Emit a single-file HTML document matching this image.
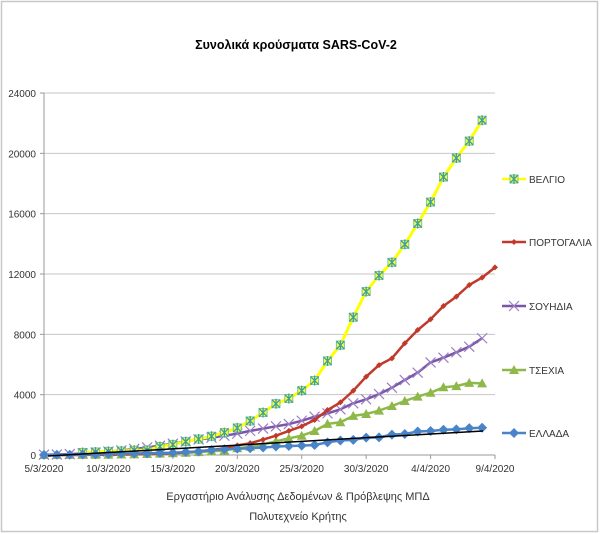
<!DOCTYPE html>
<html><head><meta charset="utf-8"><style>
html,body{margin:0;padding:0;background:#fff;}
svg{display:block;font-family:"Liberation Sans",sans-serif;}
</style></head><body>
<svg id="c" width="600" height="534" viewBox="0 0 600 534" xmlns="http://www.w3.org/2000/svg">
<rect x="1.5" y="1.5" width="596" height="530" fill="#fff" stroke="#c8c8c8" stroke-width="1.5"/>
<text x="296" y="49" text-anchor="middle" font-size="12.5" font-weight="bold" fill="#000">Συνολικά κρούσματα SARS-CoV-2</text>
<g id="grid" stroke="#c6c6c6" stroke-width="1"></g>
<line x1="44" y1="93" x2="44" y2="455" stroke="#999"/>
<line x1="44" y1="455" x2="495" y2="455" stroke="#999"/>
<g id="ylab" font-size="10" fill="#333" text-anchor="end"></g>
<g id="xlab" font-size="10" fill="#333" text-anchor="middle"></g>
<g id="series"></g>
<g id="legend" font-size="10" fill="#333"></g>
<text x="298" y="500" text-anchor="middle" font-size="11" fill="#333">Εργαστήριο Ανάλυσης Δεδομένων &amp; Πρόβλεψης ΜΠΔ</text>
<text x="298" y="520" text-anchor="middle" font-size="11" fill="#333">Πολυτεχνείο Κρήτης</text>
</svg>
<script>
var NS="http://www.w3.org/2000/svg";
function el(t,a,p){var e=document.createElementNS(NS,t);for(var k in a)e.setAttribute(k,a[k]);p.appendChild(e);return e;}
var svg=document.getElementById('c');
var g=document.getElementById('grid'),yl=document.getElementById('ylab'),xl=document.getElementById('xlab');
function Y(v){return 455-v/4000*60.33;}
function X(d){return 44+12.886*d;}
for(var i=0;i<=6;i++){var y=Y(i*4000);if(i>0)el('line',{x1:44,y1:y,x2:495,y2:y},g);el('line',{x1:40,y1:y,x2:44,y2:y,stroke:'#999'},g);
 var t=el('text',{x:36,y:y+4},yl);t.textContent=i*4000;}
var xs=['5/3/2020','10/3/2020','15/3/2020','20/3/2020','25/3/2020','30/3/2020','4/4/2020','9/4/2020'];
for(var i=0;i<8;i++){var x=X(i*5);el('line',{x1:x,y1:455,x2:x,y2:459,stroke:'#999'},g);var t=el('text',{x:x,y:472},xl);t.textContent=xs[i];}
var data={
BE:[169,200,239,267,314,314,559,689,886,1058,1243,1486,1795,2257,2815,3401,3743,4269,4937,6235,7284,9134,10836,11899,12775,13964,15348,16770,18431,19691,20814,22194],
PT:[0,0,2,5,13,21,30,41,59,78,112,169,245,331,448,642,785,1020,1280,1600,1900,2320,2980,3490,4260,5190,5960,6410,7410,8290,9000,9880,10500,11270,11760,12440],
SE:[20,30,60,100,160,230,300,400,500,620,750,900,1030,1150,1280,1420,1600,1750,1900,2050,2270,2540,2760,3030,3430,3690,4040,4460,4970,5460,6140,6450,6810,7180,7740],
CZ:[0,3,5,8,12,19,30,45,65,90,120,150,190,250,300,450,550,700,900,1100,1280,1590,2060,2170,2590,2720,2940,3250,3580,3870,4130,4490,4570,4780,4750],
GR:[9,15,20,30,45,70,90,100,110,130,150,200,230,330,380,420,450,500,560,600,620,660,840,960,1000,1150,1170,1350,1390,1560,1590,1670,1700,1780,1810]};
// Belgium data starts at day 3
var s=document.getElementById('series');
function pts(arr,off){return arr.map(function(v,i){return [X(i+off),Y(v)];});}
function line(p,c,w){el('polyline',{points:p.map(function(q){return q[0].toFixed(1)+','+q[1].toFixed(1)}).join(' '),fill:'none',stroke:c,'stroke-width':w,'stroke-linejoin':'round'},s);}
function mk(type,x,y,par){
 par=par||s;
 if(type=='BE'){el('rect',{x:x-4,y:y-4,width:8,height:8,fill:'#ffff33',stroke:'#7fbf9f','stroke-width':1},par);
  el('path',{d:'M'+(x-4)+' '+(y-4)+'L'+(x+4)+' '+(y+4)+'M'+(x+4)+' '+(y-4)+'L'+(x-4)+' '+(y+4)+'M'+x+' '+(y-5)+'V'+(y+5),stroke:'#3aa0a0','stroke-width':1.3},par);}
 else if(type=='PT'){el('path',{d:'M'+x+' '+(y-3)+'L'+(x+3)+' '+y+'L'+x+' '+(y+3)+'L'+(x-3)+' '+y+'Z',fill:'#c0392b'},par);}
 else if(type=='SE'){el('path',{d:'M'+(x-5)+' '+(y-5)+'L'+(x+5)+' '+(y+5)+'M'+(x+5)+' '+(y-5)+'L'+(x-5)+' '+(y+5),stroke:'#9b7fc4','stroke-width':1.2},par);}
 else if(type=='CZ'){el('path',{d:'M'+x+' '+(y-5)+'L'+(x+5)+' '+(y+4)+'L'+(x-5)+' '+(y+4)+'Z',fill:'#8fb84a'},par);}
 else if(type=='GR'){el('path',{d:'M'+x+' '+(y-5)+'L'+(x+5)+' '+y+'L'+x+' '+(y+5)+'L'+(x-5)+' '+y+'Z',fill:'#4a84c8'},par);}
}
var cfg=[['BE','#ffff00',3,3],['PT','#c0392b',2.5,0],['SE','#7a55a8',2.5,0],['CZ','#8fb84a',2.5,0],['GR','#4a84c8',2.5,0]];
// draw in reverse so Belgium on top
['CZ','SE','PT','BE','GR'].forEach(function(k){var c=cfg.filter(function(q){return q[0]==k})[0];var p=pts(data[k],c[3]);line(p,c[1],c[2]);p.forEach(function(q){mk(k,q[0],q[1]);});});
el('line',{x1:48,y1:456,x2:483,y2:431,stroke:'#000','stroke-width':1.5},s);
var lg=document.getElementById('legend');
var names=[['BE','ΒΕΛΓΙΟ',179,'#ffff00'],['PT','ΠΟΡΤΟΓΑΛΙΑ',242,'#c0392b'],['SE','ΣΟΥΗΔΙΑ',306,'#7a55a8'],['CZ','ΤΣΕΧΙΑ',370,'#8fb84a'],['GR','ΕΛΛΑΔΑ',433,'#4a84c8']];
names.forEach(function(n){el('line',{x1:502,y1:n[2],x2:526,y2:n[2],stroke:n[3],'stroke-width':2.5},lg);mk(n[0],514,n[2],lg);var t=el('text',{x:529,y:n[2]+4},lg);t.textContent=n[1];});
</script>
</body></html>
